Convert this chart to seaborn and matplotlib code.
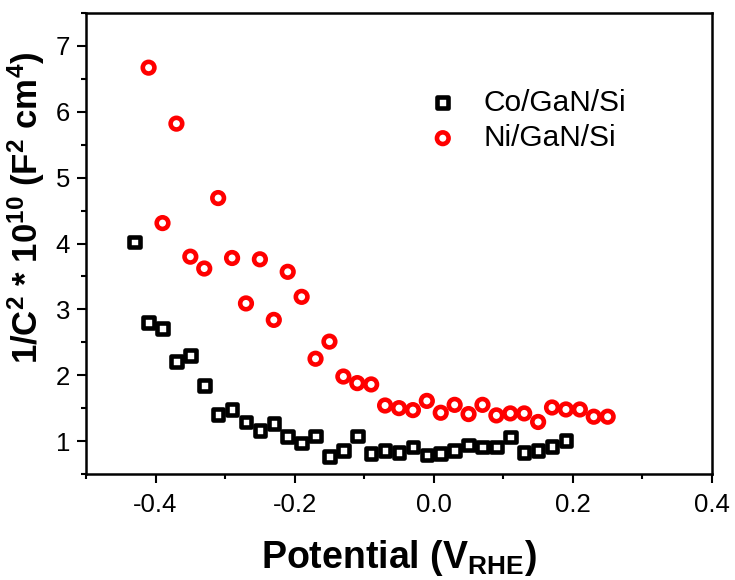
import matplotlib
matplotlib.use("Agg")
import matplotlib.pyplot as plt
from matplotlib.ticker import MultipleLocator, FormatStrFormatter
import pandas as pd
import seaborn as sns

# Mott-Schottky data: potential (V vs RHE) and 1/C^2 (x 1e10, F^-2 cm^4)
co_potential = [-0.43, -0.41, -0.39, -0.37, -0.35, -0.33, -0.31, -0.29,
                -0.27, -0.25, -0.23, -0.21, -0.19, -0.17, -0.15, -0.13,
                -0.11, -0.09, -0.07, -0.05, -0.03, -0.01, 0.01, 0.03,
                0.05, 0.07, 0.09, 0.11, 0.13, 0.15, 0.17, 0.19]
co_inv_c2 = [4.02, 2.80, 2.71, 2.21, 2.30, 1.84, 1.40, 1.48,
             1.29, 1.16, 1.27, 1.07, 0.97, 1.08, 0.77, 0.86,
             1.08, 0.81, 0.86, 0.83, 0.91, 0.79, 0.81, 0.86,
             0.94, 0.91, 0.91, 1.06, 0.83, 0.86, 0.92, 1.01]

ni_potential = [-0.41, -0.39, -0.37, -0.35, -0.33, -0.31, -0.29, -0.27,
                -0.25, -0.23, -0.21, -0.19, -0.17, -0.15, -0.13, -0.11,
                -0.09, -0.07, -0.05, -0.03, -0.01, 0.01, 0.03, 0.05,
                0.07, 0.09, 0.11, 0.13, 0.15, 0.17, 0.19, 0.21, 0.23, 0.25]
ni_inv_c2 = [6.67, 4.31, 5.82, 3.80, 3.62, 4.69, 3.78, 3.09,
             3.76, 2.84, 3.57, 3.19, 2.25, 2.51, 1.98, 1.88,
             1.86, 1.54, 1.50, 1.47, 1.61, 1.43, 1.55, 1.41,
             1.55, 1.39, 1.42, 1.42, 1.29, 1.51, 1.48, 1.48, 1.37, 1.37]

series_labels = ["Co/GaN/Si", "Ni/GaN/Si"]

co_df = pd.DataFrame({"potential": co_potential, "inv_c2": co_inv_c2})
ni_df = pd.DataFrame({"potential": ni_potential, "inv_c2": ni_inv_c2})

sns.set_style("ticks")
plt.rcParams["font.family"] = ["Liberation Sans", "DejaVu Sans"]
plt.rcParams["mathtext.fontset"] = "custom"
plt.rcParams["mathtext.rm"] = "Liberation Sans"
plt.rcParams["mathtext.it"] = "Liberation Sans:italic"
plt.rcParams["mathtext.bf"] = "Liberation Sans:bold"
plt.rcParams["text.color"] = "black"
plt.rcParams["axes.labelcolor"] = "black"
plt.rcParams["xtick.color"] = "black"
plt.rcParams["ytick.color"] = "black"

fig = plt.figure(figsize=(7.35, 5.8), dpi=100)
ax = fig.add_axes([86 / 735, 1 - 474 / 580, 626 / 735, 461 / 580])

sns.scatterplot(data=co_df, x="potential", y="inv_c2", ax=ax, marker="s",
                s=58, facecolor="none", edgecolor="black", linewidth=3.3,
                label=series_labels[0], zorder=3)
sns.scatterplot(data=ni_df, x="potential", y="inv_c2", ax=ax, marker="o",
                s=70, facecolor="none", edgecolor="#ff0000", linewidth=3.3,
                label=series_labels[1], zorder=3)

ax.set_xlim(-0.5, 0.4)
ax.set_ylim(0.5, 7.5)
ax.xaxis.set_major_locator(MultipleLocator(0.2))
ax.xaxis.set_minor_locator(MultipleLocator(0.1))
ax.yaxis.set_major_locator(MultipleLocator(1))
ax.yaxis.set_minor_locator(MultipleLocator(0.5))
ax.xaxis.set_major_formatter(FormatStrFormatter("%.1f"))

for side in ["left", "right", "top", "bottom"]:
    ax.spines[side].set_visible(True)
    ax.spines[side].set_linewidth(1.8)
    ax.spines[side].set_color("black")

ax.tick_params(which="major", direction="out", length=6.5, width=1.5,
               labelsize=18.5, pad=5)
ax.tick_params(which="minor", direction="out", length=3.5, width=1.5)
ax.tick_params(top=False, right=False, which="both")
ax.tick_params(axis="x", which="major", pad=7)

ax.set_xlabel(r"Potential (V$_{\mathbf{RHE}}$)", fontsize=27,
              fontweight="bold", labelpad=15)
ax.set_ylabel(r"$\mathbf{1/C^{2}\ {*}\ 10^{10}\ (F^{2}\ cm^{4})}$",
              fontsize=25)
ax.yaxis.set_label_coords(-0.062, 0.578)

leg = ax.legend(loc="upper left", bbox_to_anchor=(0.527, 0.862), frameon=False,
                fontsize=21.5, handletextpad=0.85, labelspacing=0.25,
                borderaxespad=0, handlelength=1.0)

fig.savefig("out.png", dpi=100)
